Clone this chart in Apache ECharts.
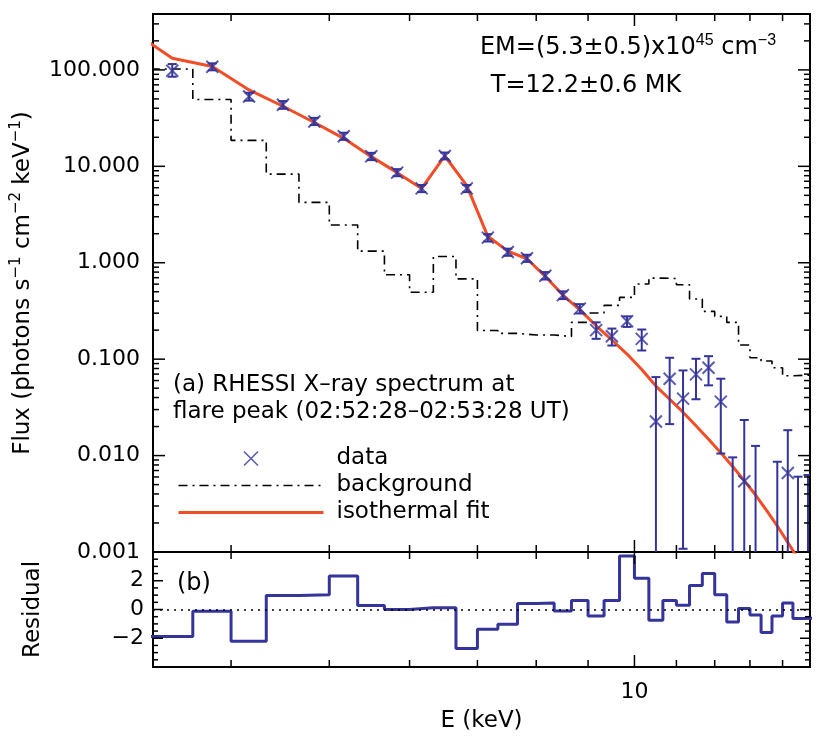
<!DOCTYPE html>
<html>
<head>
<meta charset="utf-8">
<title>RHESSI X-ray spectrum</title>
<script src="https://cdn.jsdelivr.net/npm/echarts/dist/echarts.min.js"></script>
<style>
  html, body { margin: 0; padding: 0; background: #fff; }
  #main { width: 830px; height: 738px; }
</style>
</head>
<body>
<div id="main"></div>
<script>
// 能段边界 keV (1/3 keV 一档)
var edges = [3.333, 3.667, 4.0, 4.333, 4.667, 5.0, 5.333, 5.667, 6.0, 6.333, 6.667, 7.0,
  7.333, 7.667, 8.0, 8.333, 8.667, 9.0, 9.333, 9.667, 10.0, 10.333, 10.667, 11.0,
  11.333, 11.667, 12.0, 12.333, 12.667, 13.0, 13.333, 13.667, 14.0, 14.333, 14.667, 15.0];
// 每档中心能量
var energy = [3.5, 3.833, 4.167, 4.5, 4.833, 5.167, 5.5, 5.833, 6.167, 6.5, 6.833, 7.167,
  7.5, 7.833, 8.167, 8.5, 8.833, 9.167, 9.5, 9.833, 10.167, 10.5, 10.833, 11.167,
  11.5, 11.833, 12.167, 12.5, 12.833, 13.167, 13.5, 13.833, 14.167, 14.5, 14.833];
// 观测流量及误差 (null = 负值，不画叉)
var flux = [98, 108, 53, 43.5, 29.2, 20.5, 12.7, 8.6, 5.9, 12.8, 5.9, 1.82,
  1.29, 1.115, 0.732, 0.461, 0.334, 0.2, 0.1725, 0.247, 0.1624, 0.0226, 0.0627, 0.039,
  0.0695, 0.0815, 0.0363, null, 0.00541, null, null, null, 0.00659, null, null];
var fluxLo = [85, 99, 48, 39.5, 26.8, 18.8, 11.6, 7.9, 5.4, 11.8, 5.4, 1.66,
  1.18, 1.02, 0.67, 0.42, 0.298, 0.1625, 0.1385, 0.216, 0.123, 0.0005, 0.0212, 0.00108,
  0.0384, 0.0535, 0.0105, 0.0005, 0.0005, 0.0005, null, 0.0005, 0.0005, 0.0005, 0.0005];
var fluxHi = [115, 117, 58, 47.5, 31.8, 22.3, 13.8, 9.35, 6.4, 13.9, 6.4, 1.98,
  1.4, 1.21, 0.8, 0.505, 0.372, 0.241, 0.2076, 0.278, 0.203, 0.0652, 0.1034, 0.0764,
  0.1009, 0.1074, 0.0627, 0.00958, 0.0234, 0.0126, null, 0.00863, 0.01834, 0.00604, 0.00629];
// 等温拟合
var modelE = [3.167, 3.5, 3.833, 4.167, 4.5, 4.833, 5.167, 5.5, 5.833, 6.167, 6.5, 6.833,
  7.167, 7.5, 7.833, 8.167, 8.5, 8.833, 9.167, 9.5, 9.833, 10.167, 10.5, 10.833,
  11.167, 11.5, 11.833, 12.167, 12.5, 12.833, 13.167, 13.5, 13.833, 14.167, 14.5, 14.833];
var modelFlux = [270, 132, 108.5, 62, 42, 28.5, 19.5, 12.6, 8.6, 5.9, 12.8, 6.3,
  1.88, 1.32, 1.1, 0.72, 0.462, 0.325, 0.222, 0.158, 0.113, 0.078, 0.0526, 0.0384,
  0.0282, 0.0204, 0.0148, 0.0107, 0.0077, 0.0055, 0.0039, 0.0027, 0.00186, 0.00126, 0.00085, 0.00057];
// 背景
var background = [102, 49.4, 18.6, 8.29, 4.23, 2.46, 1.32, 0.75, 0.495, 1.16, 0.68, 0.198,
  0.185, 0.178, 0.178, 0.172, 0.241, 0.301, 0.361, 0.437, 0.601, 0.693, 0.685, 0.591,
  0.42, 0.313, 0.278, 0.241, 0.14, 0.1034, 0.0956, 0.0815, 0.0672, 0.068, 0.068];
// 残差
var residual = [-1.87, -0.12, -2.21, 0.98, 1.03, 2.33, 0.27, 0.0, 0.12, 0.12, -2.72, -1.37,
  -1.03, 0.41, 0.46, -0.11, 0.62, -0.46, 0.62, 3.72, 2.17, -0.75, 0.62, 0.3,
  1.67, 2.51, 1.03, -0.87, 0.07, -0.39, -1.6, -0.46, 0.46, -0.62, -0.6];

// 刻度
var xMinorTicks = [4, 5, 6, 7, 8, 9, 11, 12, 13, 14];
var xMajorTicks = [10];
var yDecades = [0.001, 0.01, 0.1, 1, 10, 100];
var yMantissa = [2, 3, 4, 5, 6, 7, 8, 9];
var resMajorTicks = [-2, 0, 2];
var resMinorTicks = [-3.5, -3, -2.5, -1.5, -1, -0.5, 0.5, 1, 1.5, 2.5, 3, 3.5];

var BLUE = '#34349a';
var RED = '#f24d26';
var FONT = 'DejaVu Sans';

function isDecade(v) {
  var l = Math.log(v) / Math.LN10;
  return Math.abs(l - Math.round(l)) < 1e-6;
}

function stepData(vals) {
  var d = vals.map(function (v, i) { return [edges[i], v]; });
  d.push([edges[edges.length - 1], vals[vals.length - 1]]);
  return d;
}

// 四边向内的刻度线
function tickSeries(xi, yi, data, dir, len) {
  return {
    type: 'custom', xAxisIndex: xi, yAxisIndex: yi, silent: true, z: 10,
    data: data,
    renderItem: function (params, api) {
      var cs = params.coordSys;
      var p = api.coord([api.value(0), api.value(1)]);
      var st = { stroke: '#000', lineWidth: 1.5 };
      if (dir === 'x') {
        var b = cs.y + cs.height;
        return { type: 'group', children: [
          { type: 'line', shape: { x1: p[0], y1: b, x2: p[0], y2: b - len }, style: st },
          { type: 'line', shape: { x1: p[0], y1: cs.y, x2: p[0], y2: cs.y + len }, style: st }
        ] };
      }
      var r = cs.x + cs.width;
      return { type: 'group', children: [
        { type: 'line', shape: { x1: cs.x, y1: p[1], x2: cs.x + len, y2: p[1] }, style: st },
        { type: 'line', shape: { x1: r, y1: p[1], x2: r - len, y2: p[1] }, style: st }
      ] };
    }
  };
}

var yMinorTicks = [];
yDecades.forEach(function (d) {
  yMantissa.forEach(function (m) {
    if (d * m < 380) yMinorTicks.push(d * m);
  });
});

var scatterData = [];
var errData = [];
energy.forEach(function (e, i) {
  if (flux[i] != null) scatterData.push([e, flux[i]]);
  if (fluxHi[i] != null) errData.push([e, fluxLo[i], fluxHi[i]]);
});

var myChart = echarts.init(document.getElementById('main'));

// 图例里线条不要带圆点
var noDot = { color: 'rgba(0,0,0,0)', borderWidth: 0 };

var option = {
  animation: false,
  backgroundColor: '#fff',
  textStyle: { fontFamily: FONT },
  grid: [
    { left: 153, right: 20, top: 14, height: 538, show: true, borderColor: '#000', borderWidth: 2 },
    { left: 153, right: 20, top: 552, height: 115, show: true, borderColor: '#000', borderWidth: 2 }
  ],
  xAxis: [
    {
      type: 'log', gridIndex: 0, min: 3.35, max: 14.9,
      axisLine: { show: false }, axisTick: { show: false }, axisLabel: { show: false }, splitLine: { show: false }
    },
    {
      type: 'log', gridIndex: 1, min: 3.35, max: 14.9,
      axisLine: { show: false }, axisTick: { show: false }, splitLine: { show: false },
      axisLabel: {
        fontSize: 22, color: '#000', margin: 14,
        formatter: function (v) { return isDecade(v) ? String(Math.round(v)) : ''; }
      },
      name: 'E (keV)', nameLocation: 'middle', nameGap: 43,
      nameTextStyle: { fontSize: 23, color: '#000' }
    }
  ],
  yAxis: [
    {
      type: 'log', gridIndex: 0, min: 0.001, max: 380,
      axisLine: { show: false }, axisTick: { show: false }, splitLine: { show: false },
      axisLabel: {
        fontSize: 22, color: '#000', margin: 13,
        formatter: function (v) { return isDecade(v) ? v.toFixed(3) : ''; }
      },
      name: 'Flux (photons s{sup|\u22121} cm{sup|\u22122} keV{sup|\u22121})',
      nameLocation: 'middle', nameGap: 100,
      nameTextStyle: {
        fontSize: 23, color: '#000', lineHeight: 30,
        rich: { sup: { fontSize: 15, lineHeight: 14, verticalAlign: 'top', color: '#000' } }
      }
    },
    {
      type: 'value', gridIndex: 1, min: -4, max: 4, interval: 2,
      axisLine: { show: false }, axisTick: { show: false }, splitLine: { show: false },
      axisLabel: {
        fontSize: 22, color: '#000', margin: 9,
        formatter: function (v) {
          if (v === 2 || v === 0) return String(v);
          if (v === -2) return '\u22122';
          return '';
        }
      },
      name: 'Residual', nameLocation: 'middle', nameGap: 108,
      nameTextStyle: { fontSize: 23, color: '#000' }
    }
  ],
  legend: {
    orient: 'vertical', left: 172, top: 442,
    itemWidth: 145, itemHeight: 14, itemGap: 4,
    selectedMode: false,
    lineStyle: { width: 'inherit' },
    data: [
      { name: 'data', itemStyle: { borderWidth: 1.6 } },
      { name: 'background', itemStyle: noDot },
      { name: 'isothermal fit', itemStyle: noDot }
    ],
    textStyle: { fontSize: 23, color: '#000', padding: [0, 0, 0, 8] }
  },
  graphic: [
    {
      type: 'text', x: 628, y: 48,
      style: {
        text: 'EM=(5.3\u00b10.5)x10{sup|45} cm{sup|\u22123}',
        font: '24px "DejaVu Sans"', fill: '#000', align: 'center', verticalAlign: 'middle', lineHeight: 30,
        rich: { sup: { fontSize: 16, lineHeight: 14, verticalAlign: 'top', fill: '#000' } }
      }
    },
    {
      type: 'text', x: 586, y: 86,
      style: { text: 'T=12.2\u00b10.6 MK', font: '24px "DejaVu Sans"', fill: '#000', align: 'center', verticalAlign: 'middle' }
    },
    {
      type: 'text', x: 173, y: 385,
      style: { text: '(a) RHESSI X\u2013ray spectrum at', font: '23px "DejaVu Sans"', fill: '#000', verticalAlign: 'middle' }
    },
    {
      type: 'text', x: 173, y: 412,
      style: { text: 'flare peak (02:52:28\u201302:53:28 UT)', font: '23px "DejaVu Sans"', fill: '#000', verticalAlign: 'middle' }
    },
    {
      type: 'text', x: 177, y: 584,
      style: { text: '(b)', font: '24px "DejaVu Sans"', fill: '#000', verticalAlign: 'middle' }
    }
  ],
  series: [
    {
      name: 'background', type: 'line', xAxisIndex: 0, yAxisIndex: 0,
      step: 'end', symbol: 'none', z: 2,
      lineStyle: { color: '#000', width: 1.6, type: [9, 5, 2, 5] },
      itemStyle: { color: '#000' },
      data: stepData(background)
    },
    {
      name: 'isothermal fit', type: 'line', xAxisIndex: 0, yAxisIndex: 0,
      symbol: 'none', z: 3,
      lineStyle: { color: RED, width: 3 },
      itemStyle: { color: RED },
      data: modelE.map(function (e, i) { return [e, modelFlux[i]]; })
    },
    {
      // 误差棒
      type: 'custom', xAxisIndex: 0, yAxisIndex: 0, z: 4, clip: true, silent: true,
      data: errData,
      encode: { x: 0, y: [1, 2] },
      renderItem: function (params, api) {
        var lo = api.coord([api.value(0), api.value(1)]);
        var hi = api.coord([api.value(0), api.value(2)]);
        var w = 4.5;
        var st = { stroke: BLUE, lineWidth: 2 };
        return { type: 'group', children: [
          { type: 'line', shape: { x1: lo[0], y1: lo[1], x2: hi[0], y2: hi[1] }, style: st },
          { type: 'line', shape: { x1: hi[0] - w, y1: hi[1], x2: hi[0] + w, y2: hi[1] }, style: st },
          { type: 'line', shape: { x1: lo[0] - w, y1: lo[1], x2: lo[0] + w, y2: lo[1] }, style: st }
        ] };
      }
    },
    {
      name: 'data', type: 'scatter', xAxisIndex: 0, yAxisIndex: 0, z: 5,
      symbol: 'path://M0,0L10,10M10,0L0,10', symbolSize: 12,
      itemStyle: { color: BLUE, borderColor: BLUE, borderWidth: 2 },
      data: scatterData
    },
    {
      name: 'residual', type: 'line', xAxisIndex: 1, yAxisIndex: 1,
      step: 'end', symbol: 'none', z: 3,
      lineStyle: { color: BLUE, width: 3 },
      data: stepData(residual),
      markLine: {
        silent: true, symbol: ['none', 'none'], label: { show: false },
        lineStyle: { color: '#000', width: 1.5, type: [2, 5] },
        data: [{ yAxis: 0 }]
      }
    },
    tickSeries(0, 0, xMinorTicks.map(function (v) { return [v, 1]; }), 'x', 7),
    tickSeries(0, 0, xMajorTicks.map(function (v) { return [v, 1]; }), 'x', 12),
    tickSeries(0, 0, yDecades.map(function (v) { return [10, v]; }), 'y', 12),
    tickSeries(0, 0, yMinorTicks.map(function (v) { return [10, v]; }), 'y', 6),
    tickSeries(1, 1, xMinorTicks.map(function (v) { return [v, 0]; }), 'x', 7),
    tickSeries(1, 1, xMajorTicks.map(function (v) { return [v, 0]; }), 'x', 12),
    tickSeries(1, 1, resMajorTicks.map(function (v) { return [10, v]; }), 'y', 10),
    tickSeries(1, 1, resMinorTicks.map(function (v) { return [10, v]; }), 'y', 5)
  ]
};

myChart.setOption(option);
</script>
</body>
</html>
